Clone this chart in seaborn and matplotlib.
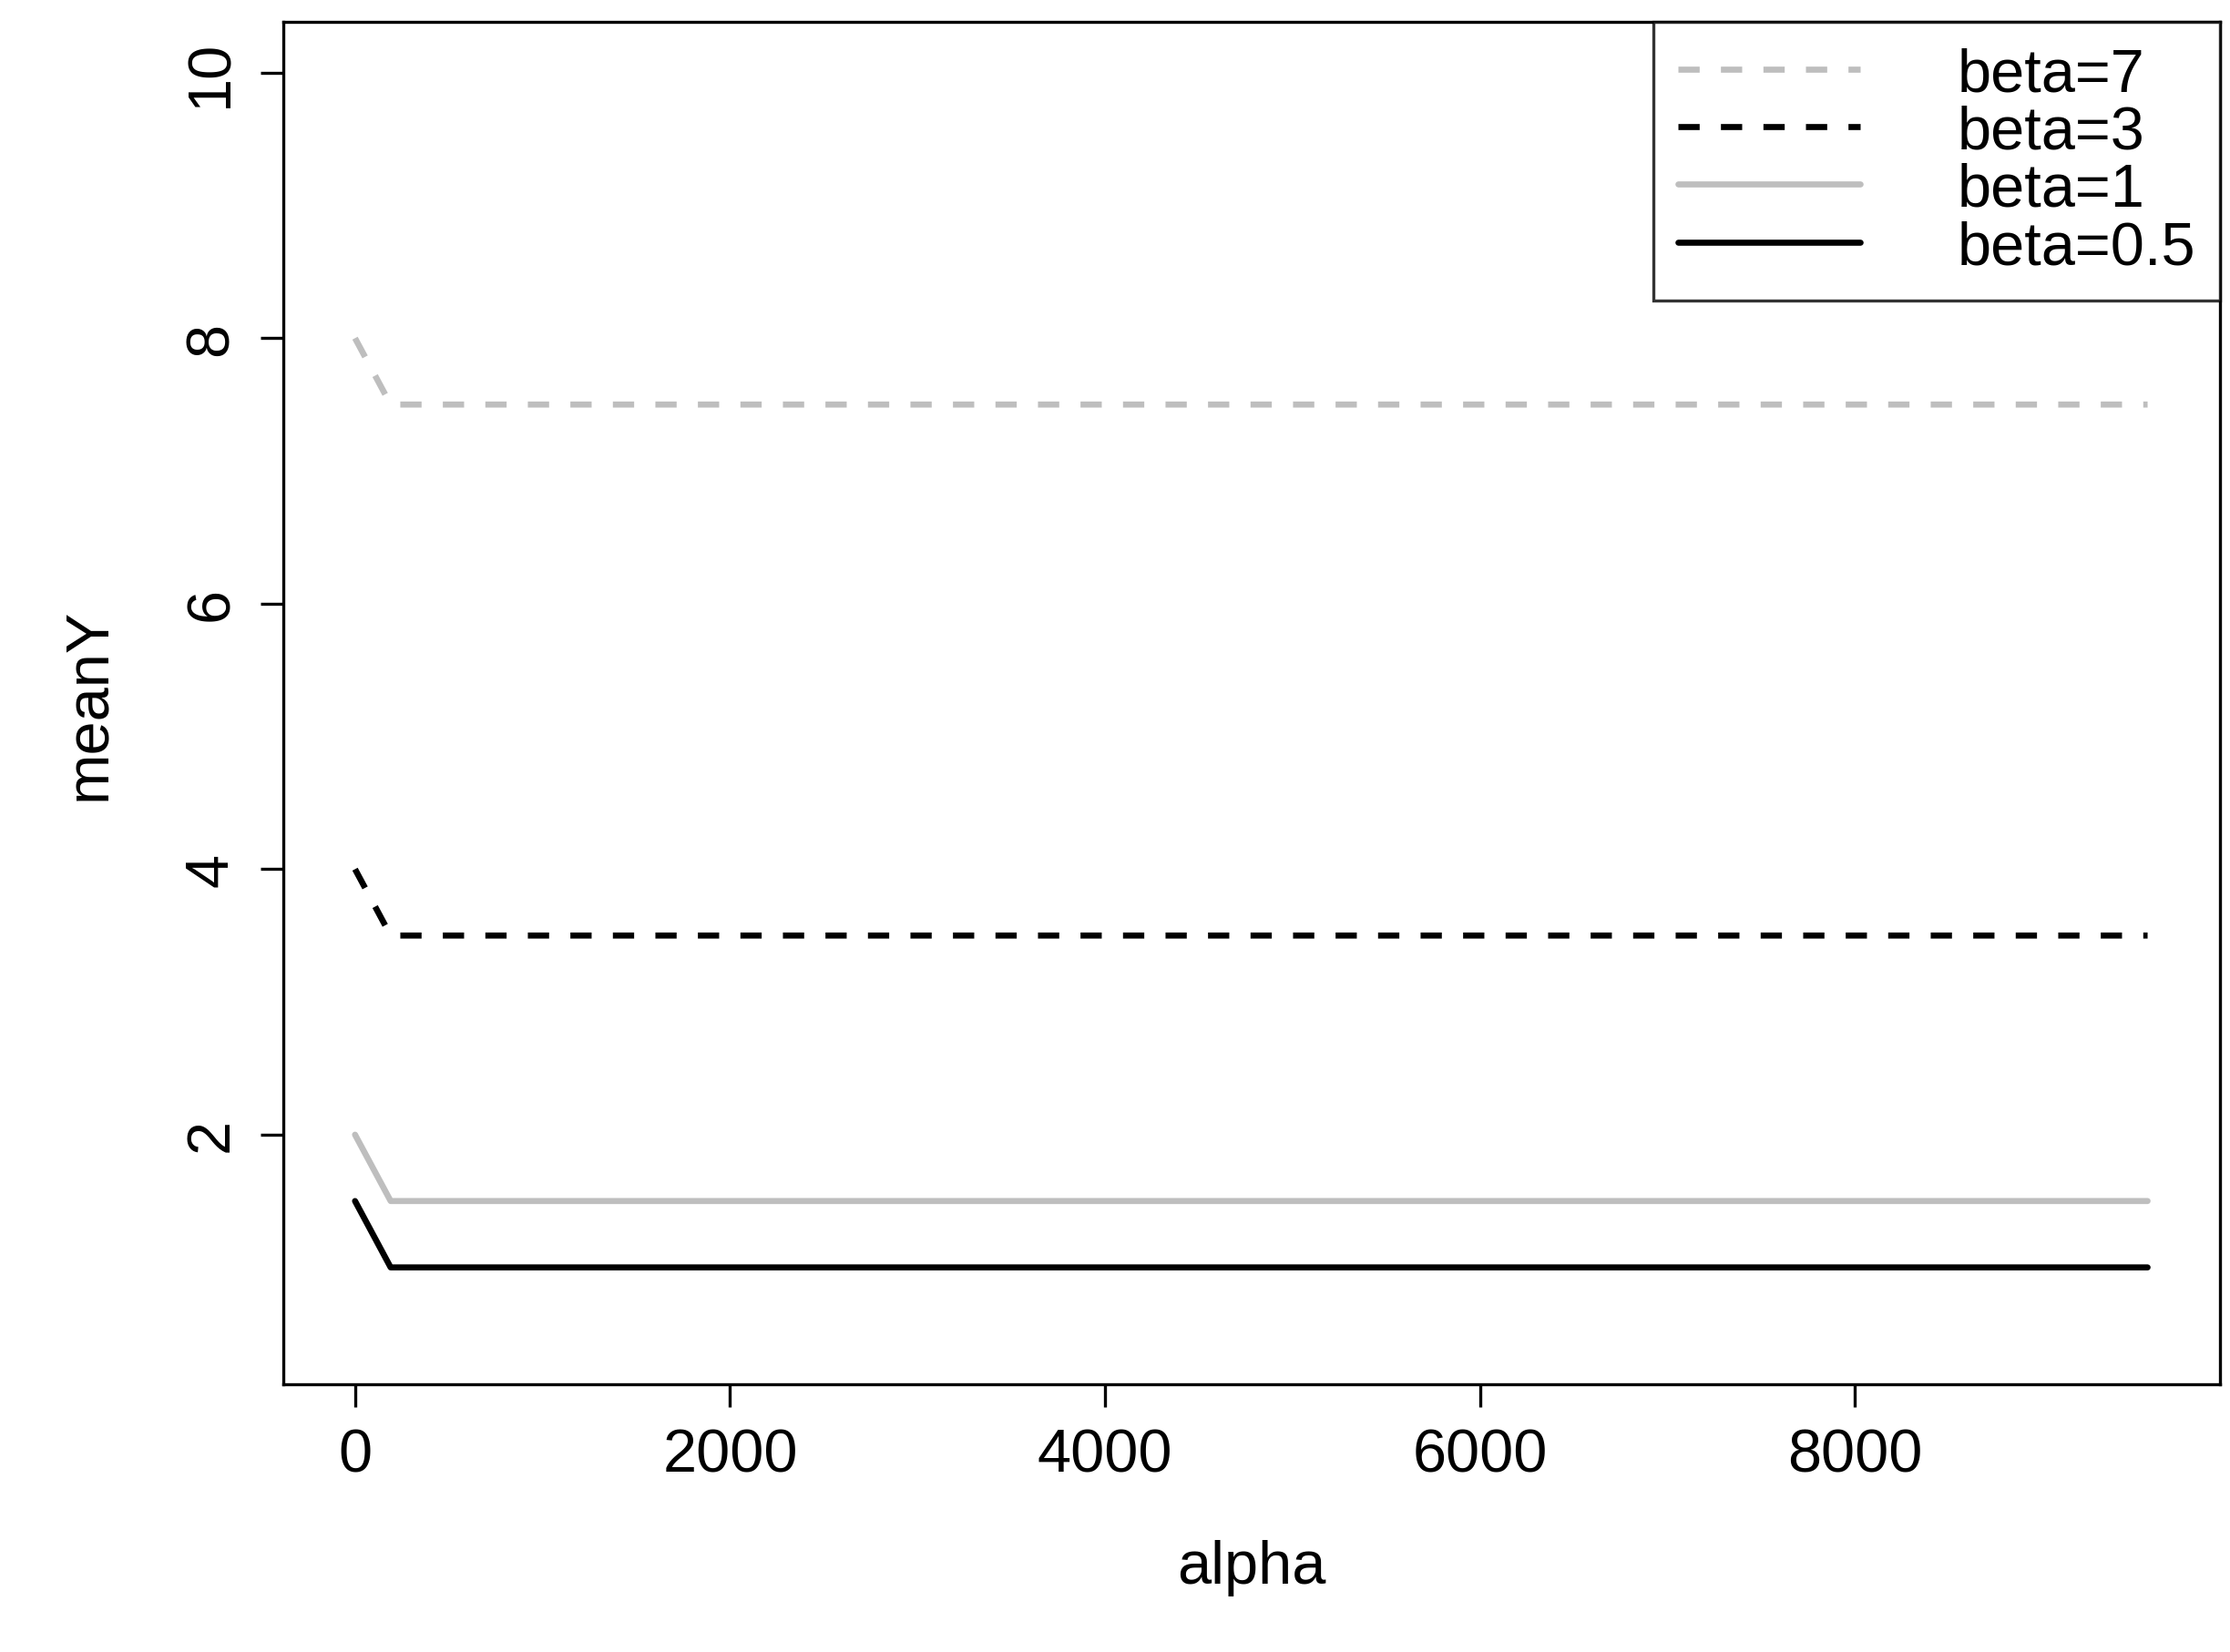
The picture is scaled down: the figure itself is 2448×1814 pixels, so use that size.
import numpy as np
import pandas as pd
import matplotlib.pyplot as plt
import seaborn as sns

sns.set_theme(style="white")
plt.rcParams["font.family"] = ["Liberation Sans", "DejaVu Sans"]
plt.rcParams["text.color"] = "black"
plt.rcParams["axes.labelcolor"] = "black"
plt.rcParams["xtick.color"] = "black"
plt.rcParams["ytick.color"] = "black"

# values
alpha = [0, 190, 9560]
beta_7 = [8.0, 7.5, 7.5]
beta_3 = [4.0, 3.5, 3.5]
beta_1 = [2.0, 1.5, 1.5]
beta_05 = [1.5, 1.0, 1.0]

labels = ["beta=7", "beta=3", "beta=1", "beta=0.5"]
series = [beta_7, beta_3, beta_1, beta_05]
colors = ["#bebebe", "black", "#bebebe", "black"]
dashes = [(3.5, 3.5), (3.5, 3.5), (), ()]

fig = plt.figure(figsize=(12.24, 9.075), dpi=200)
ax = fig.add_axes([0.127, 0.162, 0.8685, 0.824])

for lab, vals, c, d in zip(labels, series, colors, dashes):
    df = pd.DataFrame({"alpha": alpha, "meanY": vals})
    sns.lineplot(data=df, x="alpha", y="meanY", color=c, lw=2.4,
                 dashes=False, ax=ax, label=lab)
    line = ax.get_lines()[-1]
    if d:
        line.set_dashes(d)

ax.set_xlim(-383, 9946)
ax.set_ylim(0.12, 10.38)
ax.set_xticks([0, 2000, 4000, 6000, 8000])
ax.set_yticks([2, 4, 6, 8, 10])
ax.tick_params(axis="both", labelsize=24, length=9, width=1.2, direction="out",
               bottom=True, left=True, pad=8)
plt.setp(ax.get_yticklabels(), rotation=90, va="center")
ax.set_xlabel("alpha", fontsize=24, labelpad=22)
ax.set_ylabel("meanY", fontsize=24, labelpad=26)
for s in ax.spines.values():
    s.set_color("black")
    s.set_linewidth(1.2)

leg = ax.legend(loc="upper right", fontsize=24, frameon=True, fancybox=False,
                borderaxespad=0, handlelength=3.0, handletextpad=1.6,
                labelspacing=0.02, borderpad=0.4)
leg.get_frame().set_edgecolor("black")
leg.get_frame().set_linewidth(1.2)

fig.savefig("out.png", dpi=200)
